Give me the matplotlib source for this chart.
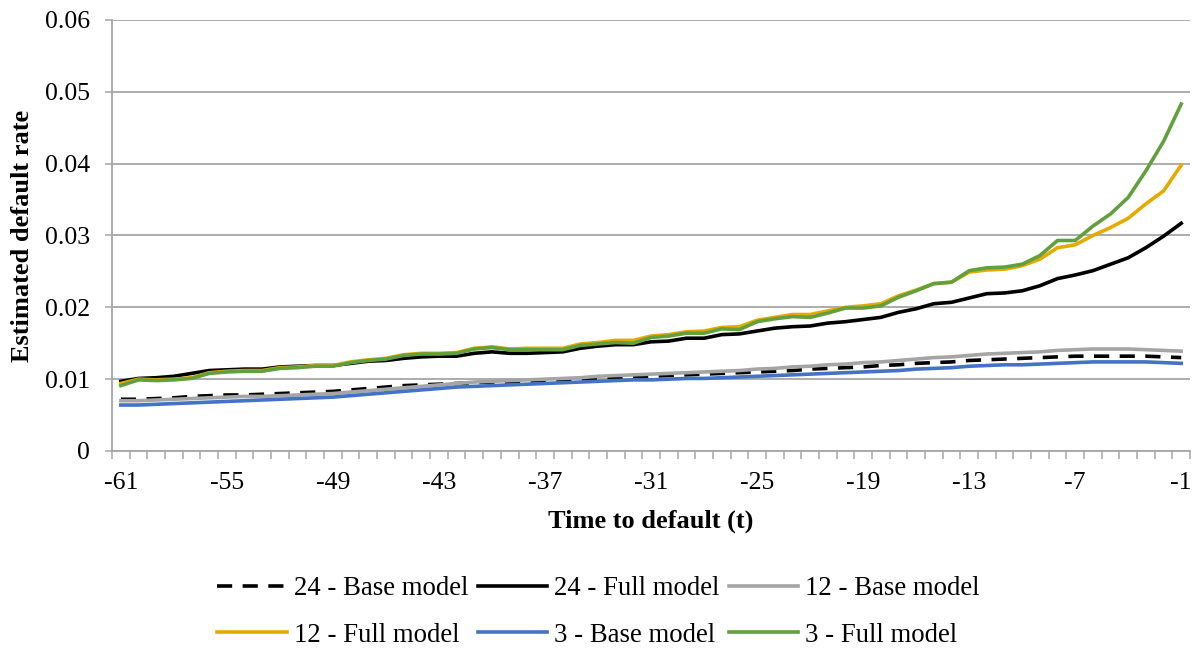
import matplotlib
matplotlib.use("Agg")
import matplotlib.pyplot as plt

plt.rcParams['font.family'] = ['Liberation Serif', 'DejaVu Serif']
plt.rcParams['axes.unicode_minus'] = False

t = list(range(-61, 0))

base_24 = [.0072, .0072, .0073, .0074, .0076, .0077, .0078, .0078, .0079, .0080,
           .0081, .0082, .0083, .0085, .0087, .0089, .0091, .0092, .0093, .0094,
           .0095, .0096, .0096, .0097, .0098, .0099, .0100, .0101, .0102, .0103,
           .0104, .0105, .0106, .0107, .0108, .0109, .0110, .0111, .0112, .0114,
           .0115, .0116, .0117, .0119, .0120, .0122, .0123, .0124, .0126, .0127,
           .0128, .0129, .0130, .0131, .0132, .0132, .0132, .0132, .0132, .0131,
           .0130]
full_24 = [.0097, .0101, .0102, .0104, .0108, .0112, .0113, .0114, .0114, .0117,
           .0118, .0119, .0119, .0122, .0125, .0126, .0129, .0131, .0132, .0132,
           .0136, .0138, .0136, .0136, .0137, .0138, .0143, .0146, .0148, .0148,
           .0152, .0153, .0157, .0157, .0162, .0163, .0167, .0171, .0173, .0174,
           .0178, .0180, .0183, .0186, .0193, .0198, .0205, .0207, .0213, .0219,
           .0220, .0223, .0230, .0240, .0245, .0251, .0260, .0269, .0283, .0299,
           .0317]
base_12 = [.0070, .0070, .0071, .0072, .0073, .0074, .0075, .0076, .0076, .0077,
           .0078, .0079, .0080, .0082, .0084, .0086, .0088, .0090, .0092, .0094,
           .0096, .0097, .0098, .0099, .0100, .0101, .0102, .0104, .0105, .0106,
           .0107, .0108, .0109, .0110, .0111, .0112, .0114, .0115, .0117, .0118,
           .0120, .0121, .0123, .0124, .0126, .0128, .0130, .0131, .0133, .0135,
           .0136, .0137, .0138, .0140, .0141, .0142, .0142, .0142, .0141, .0140,
           .0139]
full_12 = [.0094, .0100, .0099, .0100, .0102, .0109, .0111, .0112, .0112, .0116,
           .0117, .0119, .0119, .0124, .0127, .0129, .0134, .0136, .0136, .0137,
           .0143, .0145, .0142, .0143, .0143, .0143, .0149, .0151, .0154, .0154,
           .0160, .0162, .0166, .0167, .0172, .0173, .0182, .0186, .0190, .0190,
           .0195, .0200, .0202, .0205, .0216, .0224, .0233, .0235, .0249, .0252,
           .0253, .0258, .0267, .0283, .0287, .0300, .0311, .0324, .0344, .0362,
           .0398]
base_3 = [.0064, .0064, .0065, .0066, .0067, .0068, .0069, .0070, .0071, .0072,
          .0073, .0074, .0075, .0077, .0079, .0081, .0083, .0085, .0087, .0089,
          .0090, .0091, .0092, .0093, .0094, .0095, .0096, .0097, .0098, .0099,
          .0099, .0100, .0101, .0101, .0102, .0103, .0104, .0105, .0106, .0107,
          .0108, .0109, .0110, .0111, .0112, .0114, .0115, .0116, .0118, .0119,
          .0120, .0120, .0121, .0122, .0123, .0124, .0124, .0124, .0124, .0123,
          .0122]
full_3 = [.0091, .0099, .0098, .0099, .0101, .0108, .0110, .0111, .0111, .0115,
          .0116, .0118, .0118, .0123, .0126, .0128, .0133, .0135, .0135, .0136,
          .0142, .0144, .0141, .0141, .0141, .0141, .0147, .0149, .0151, .0150,
          .0158, .0160, .0164, .0164, .0170, .0169, .0180, .0184, .0187, .0186,
          .0192, .0199, .0199, .0202, .0214, .0223, .0233, .0235, .0251, .0255,
          .0256, .0260, .0272, .0293, .0293, .0313, .0330, .0353, .0390, .0431,
          .0483]

fig = plt.figure(figsize=(11.97, 6.49), dpi=100)
ax = fig.add_axes([0.0936, 0.3051, 0.9006, 0.6641])

lw = 2.6
h1, = ax.plot(t, base_24, color="black", lw=lw, linestyle=(0, (4.2, 2.9)), label="24 - Base model")
h2, = ax.plot(t, full_24, color="black", lw=lw, label="24 - Full model")
h3, = ax.plot(t, base_12, color="#a5a5a5", lw=lw, label="12 - Base model")
h4, = ax.plot(t, full_12, color="#e5aa00", lw=lw, label="12 - Full model")
h5, = ax.plot(t, base_3, color="#4472c4", lw=lw, label="3 - Base model")
h6, = ax.plot(t, full_3, color="#62a03e", lw=lw, label="3 - Full model")

ax.set_xlim(-61.5, -0.5)
ax.set_ylim(0, 0.06)
ax.set_yticks([0, 0.01, 0.02, 0.03, 0.04, 0.05, 0.06])
ax.set_yticklabels(["0", "0.01", "0.02", "0.03", "0.04", "0.05", "0.06"])
ax.set_xticks(list(range(-61, 0, 6)))
ax.set_xticklabels([str(x) for x in range(-61, 0, 6)])
ax.set_xticks([x + 0.5 for x in range(-62, 0)], minor=True)
ax.grid(axis="y", color="#a6a6a6", lw=1.3)
ax.set_axisbelow(True)

for s in ["top", "right"]:
    ax.spines[s].set_visible(False)
for s in ["left", "bottom"]:
    ax.spines[s].set_color("#a6a6a6")
    ax.spines[s].set_linewidth(1.3)

ax.tick_params(axis="x", which="major", length=0, labelsize=18.5, pad=15)
ax.tick_params(axis="x", which="minor", length=5.5, width=1.1, color="#a6a6a6")
ax.tick_params(axis="y", length=5, width=1.1, color="#a6a6a6", labelsize=18.5, pad=11)

ax.set_xlabel("Time to default (t)", fontsize=19, fontweight="bold", labelpad=11)
ax.set_ylabel("Estimated default rate", fontsize=19, fontweight="bold", labelpad=8)

# Excel fills the legend row by row, matplotlib column by column
handles = [h1, h4, h2, h5, h3, h6]
fig.legend(handles, [h.get_label() for h in handles], loc="center",
           bbox_to_anchor=(0.5, 0.057), ncol=3, frameon=False, fontsize=19.3,
           handlelength=2.6, handletextpad=0.25, columnspacing=0.35, labelspacing=0.8)

fig.savefig("out.png", dpi=100)
